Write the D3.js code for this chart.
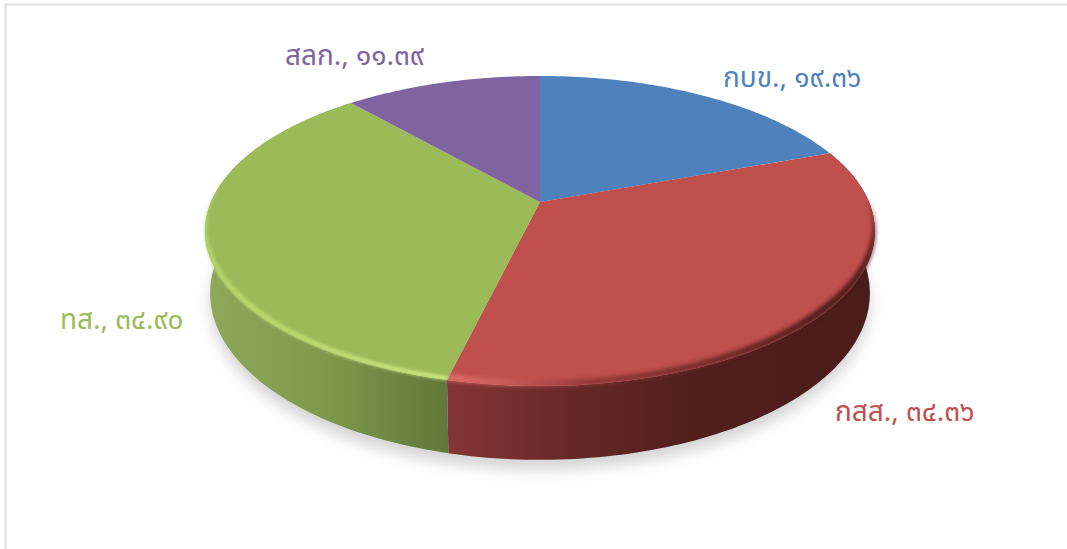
<!DOCTYPE html>
<html>
<head>
<meta charset="utf-8">
<script src="https://d3js.org/d3.v7.min.js"></script>
<style>
  html, body {margin: 0; padding: 0; background: #fff;}
  svg {display: block;}
  .label {font-family: "Noto Sans", "Noto Sans Thai", Loma, sans-serif; font-size: 28px; font-weight: 400;}
</style>
</head>
<body>
<svg id="chart" width="1067" height="549"></svg>
<script>
var categories = ["กบข.", "กสส.", "ทส.", "สลก."];
var values = [19.36, 34.36, 34.90, 11.39];
var valueLabels = ["๑๙.๓๖", "๓๔.๓๖", "๓๔.๙๐", "๑๑.๓๙"];
var colors = ["#4f81bd", "#c0504d", "#9bbb59", "#8064a2"];

var svg = d3.select("#chart"),
    defs = svg.append("defs");

// perspective of the pie: apex of the slices and how the disc is tilted
var cx = 540, cy = 202, rx = 329, ry = 149.6, tilt = -0.187, depth = 60;

function project(angle, wall, r) {
  if (r === undefined) r = 1;
  // v is negative at the back of the disc, positive at the front
  var u = r * Math.sin(angle), v = -r * Math.cos(angle), w = 1 + tilt * v;
  if (wall) return [cx + 0.985 * rx * u / w, cy + (ry * v + depth) / w];
  return [cx + rx * u / w, cy + ry * v / w];
}

function samples(a0, a1) {
  var n = Math.max(2, Math.ceil((a1 - a0) / 0.02));
  return d3.range(n + 1).map(function(i) { return a0 + (a1 - a0) * i / n; });
}

var line = d3.line();
var arcs = d3.pie().sort(null)(values);

function gradient(id, stops) {
  var g = defs.append("linearGradient").attr("id", id)
      .attr("gradientUnits", "userSpaceOnUse")
      .attr("x1", cx - 335).attr("x2", cx + 335).attr("y1", 0).attr("y2", 0);
  stops.forEach(function(s) {
    g.append("stop").attr("offset", (s[0] - (cx - 335)) / 670).attr("stop-color", s[1]);
  });
}

gradient("wallRed", [[447, "#863535"], [560, "#682928"], [690, "#521f1d"], [875, "#4a1c1a"]]);
gradient("wallGreen", [[205, "#8ea95a"], [330, "#7e984a"], [447, "#61783a"]]);
gradient("bevelRed", [[447, "#e87474"], [500, "#cf6060"], [590, "#8c3534"], [875, "#3e1615"]]);
gradient("bevelGreen", [[205, "#b4d468"], [300, "#bcdc70"], [447, "#cdea84"]]);

function blur(id, amount, margin) {
  defs.append("filter").attr("id", id)
      .attr("x", -margin + "%").attr("y", -margin + "%")
      .attr("width", 100 + 2 * margin + "%").attr("height", 100 + 2 * margin + "%")
      .append("feGaussianBlur").attr("stdDeviation", amount);
}
blur("soft", 7, 10);
blur("bevel1", 2, 5);
blur("bevel2", 1.5, 5);

// page frame
svg.append("path")
    .attr("d", "M5.5,549V4.5H1067")
    .attr("fill", "none")
    .attr("stroke", "#dedede")
    .attr("stroke-width", 2);

// shadow under the pie
svg.append("path")
    .attr("d", line(samples(0, 2 * Math.PI).map(function(a) {
      var p = project(a, true);
      return [p[0], p[1] + 10];
    })) + "Z")
    .attr("fill", "#000")
    .attr("fill-opacity", 0.17)
    .attr("filter", "url(#soft)");

// side wall, the slices at the back are hidden by the top face
var walls = {1: "url(#wallRed)", 2: "url(#wallGreen)"};
arcs.forEach(function(d, i) {
  if (!walls[i]) return;
  var steps = samples(d.startAngle, d.endAngle);
  var pts = steps.map(function(a) { return project(a, false); })
      .concat(steps.slice().reverse().map(function(a) { return project(a, true); }));
  svg.append("path").attr("d", line(pts) + "Z").attr("fill", walls[i]);
});

// top face
svg.selectAll(".slice")
    .data(arcs)
    .enter().append("path")
    .attr("class", "slice")
    .attr("d", function(d) {
      return line([[cx, cy]].concat(samples(d.startAngle, d.endAngle).map(function(a) {
        return project(a, false);
      }))) + "Z";
    })
    .attr("fill", function(d, i) { return colors[i]; });

// bevel along the rim, a crescent that thins out towards the back of the disc
var bevels = {1: "url(#bevelRed)", 2: "url(#bevelGreen)"};
arcs.forEach(function(d, i) {
  if (!bevels[i]) return;
  var a0 = d.startAngle + (i == 1 ? 0.35 : 0), a1 = d.endAngle - (i == 2 ? 0.75 : 0);
  var steps = samples(a0, a1);
  function inner(a) {
    var fade = i == 1 ? (a - a0) / 0.7 : (a1 - a) / 0.7;
    return project(a, false, 1 - (i == 1 ? 0.024 : 0.017) * Math.min(1, fade));
  }
  var pts = steps.map(function(a) { return project(a, false, 1.001); })
      .concat(steps.slice().reverse().map(inner));
  svg.append("path")
      .attr("d", line(pts) + "Z")
      .attr("fill", bevels[i])
      .attr("filter", "url(#bevel" + i + ")");
});

// labels
var labelAnchors = [[723, 87], [835, 421], [60, 329], [285, 65]];
svg.selectAll(".label")
    .data(categories)
    .enter().append("text")
    .attr("class", "label")
    .attr("x", function(d, i) { return labelAnchors[i][0]; })
    .attr("y", function(d, i) { return labelAnchors[i][1]; })
    .attr("fill", function(d, i) { return colors[i]; })
    .text(function(d, i) { return d + ", " + valueLabels[i]; });
</script>
</body>
</html>
